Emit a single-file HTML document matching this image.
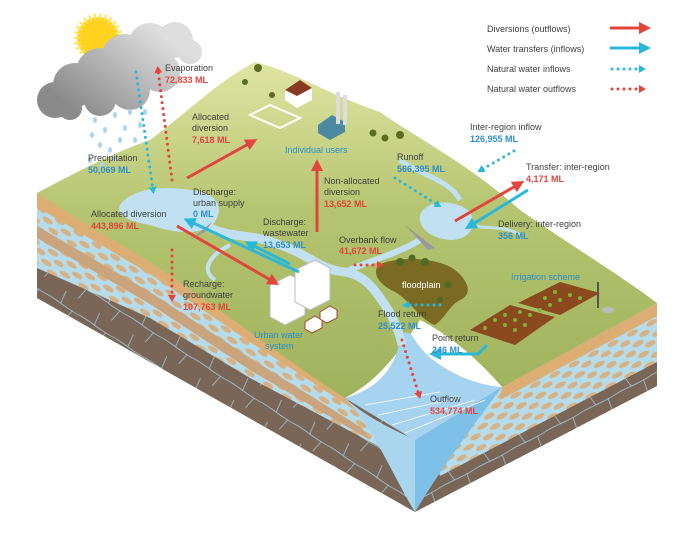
<!DOCTYPE html>
<html><head><meta charset="utf-8"><style>
html,body{margin:0;padding:0;background:#fff;}
svg{display:block;}
text{font-family:"Liberation Sans",sans-serif;font-size:9px;}
.g{fill:#3f3f3f}.r{fill:#e2453c;font-weight:bold}.b{fill:#2f8fc9;font-weight:bold}.bl{fill:#2f8fc9}
</style></head><body>
<svg width="700" height="548" viewBox="0 0 700 548" xmlns="http://www.w3.org/2000/svg">
<defs>
<pattern id="cob" width="22" height="12" patternUnits="userSpaceOnUse" patternTransform="rotate(33)">
<rect width="22" height="12" fill="#b5dcea"/>
<ellipse cx="6" cy="3" rx="6" ry="2.5" fill="#d7b183"/>
<ellipse cx="17" cy="9" rx="6" ry="2.5" fill="#d7b183"/>
</pattern>
<pattern id="cobR" width="22" height="12" patternUnits="userSpaceOnUse" patternTransform="rotate(-28)">
<rect width="22" height="12" fill="#b5dcea"/>
<ellipse cx="6" cy="3" rx="6" ry="2.5" fill="#d7b183"/>
<ellipse cx="17" cy="9" rx="6" ry="2.5" fill="#d7b183"/>
</pattern>
<pattern id="rock" width="40" height="26" patternUnits="userSpaceOnUse" patternTransform="rotate(33)">
<rect width="40" height="26" fill="#7a6656"/>
<path d="M0 13 C10 12 25 15 40 13 M14 0 L16 13 M30 13 L28 26" stroke="#9cc6da" stroke-width="0.8" fill="none"/>
</pattern>
<pattern id="rockR" width="40" height="26" patternUnits="userSpaceOnUse" patternTransform="rotate(-28)">
<rect width="40" height="26" fill="#7a6656"/>
<path d="M0 13 C10 12 25 15 40 13 M14 0 L16 13 M30 13 L28 26" stroke="#9cc6da" stroke-width="0.8" fill="none"/>
</pattern>
<linearGradient id="gr" x1="0" y1="0" x2="0" y2="1">
<stop offset="0" stop-color="#dfe5a2"/><stop offset="0.45" stop-color="#b4c470"/><stop offset="1" stop-color="#9fb25c"/>
</linearGradient>
<linearGradient id="cl" x1="150" y1="25" x2="80" y2="115" gradientUnits="userSpaceOnUse">
<stop offset="0" stop-color="#dedede"/><stop offset="1" stop-color="#8a8a8a"/>
</linearGradient>
<marker id="ar" markerWidth="4" markerHeight="4" refX="2" refY="2" orient="auto"><path d="M0 0 L4 2 L0 4z" fill="#e2453c"/></marker>
<marker id="ab" markerWidth="4" markerHeight="4" refX="2" refY="2" orient="auto"><path d="M0 0 L4 2 L0 4z" fill="#2ab8d8"/></marker>
<marker id="dr" markerWidth="8" markerHeight="8" refX="3" refY="4" orient="auto" markerUnits="userSpaceOnUse"><path d="M0 0 L7 4 L0 8z" fill="#e2453c"/></marker>
<marker id="db" markerWidth="8" markerHeight="8" refX="3" refY="4" orient="auto" markerUnits="userSpaceOnUse"><path d="M0 0 L7 4 L0 8z" fill="#2ab8d8"/></marker>
</defs>

<polygon points="37,193 150,262 250,330 345,398 415,440 415,512 37,298" fill="url(#rock)"/>
<polygon points="37,193 150,262 250,330 345,398 395,455 250,378 150,318 37,268" fill="url(#cob)"/>
<polygon points="37,226 150,292 250,358 362,428 370,440 250,370 150,304 37,238" fill="#c9a47c"/>
<polygon points="37,193 150,262 250,330 345,398 355,410 250,342 150,274 37,207" fill="#dcae74"/>
<polygon points="502,387 657,303 657,386 415,512 415,440" fill="url(#rockR)"/>
<polygon points="502,387 657,303 657,362 440,476 430,440" fill="url(#cobR)"/>
<polygon points="502,387 657,303 657,316 500,400" fill="#dcae74"/>
<path d="M345,398 C370,420 395,430 415,440 L415,512 C395,480 375,430 345,398z" fill="#a9d5ee"/>
<path d="M415,440 L502,387 C470,430 440,470 415,512z" fill="#7fc0e8"/>
<path d="M37,193 C80,170 120,150 150,140 C190,110 220,80 255,62 C290,70 330,95 380,112 C420,140 470,165 520,210 C570,245 620,275 657,303 L502,387 C470,350 440,330 420,320 C400,350 380,380 345,398 C300,370 250,330 150,262 C110,238 70,215 37,193z" fill="url(#gr)"/>
<path d="M345,398 C375,390 395,370 400,340 C402,330 410,330 415,340 C430,365 470,385 502,387 L415,440z" fill="#a6d3ef"/>
<g stroke="#fff" stroke-width="1" opacity="0.8"><path d="M365,405 L440,392"/><path d="M378,415 L460,398"/><path d="M392,425 L475,400"/><path d="M405,433 L485,400"/></g>
<g fill="#c1e1f3">
<path d="M120,205 C130,190 160,185 190,190 C215,192 225,205 215,222 C200,238 170,232 150,225 C130,222 115,215 120,205z"/>
<path d="M420,215 C425,200 455,198 470,212 C478,225 470,240 450,240 C430,238 418,228 420,215z"/>
</g>
<path d="M400,160 C420,175 450,180 460,200" stroke="#c1e1f3" stroke-width="5" fill="none"/>
<path d="M470,225 C490,230 505,225 520,235" stroke="#c1e1f3" stroke-width="3" fill="none"/>
<path d="M205,225 C230,240 250,232 280,245 C310,255 320,270 345,272 C365,275 375,290 385,305 C395,320 400,335 402,345" stroke="#c1e1f3" stroke-width="9" fill="none"/>
<path d="M230,245 C210,255 200,270 215,280" stroke="#c1e1f3" stroke-width="4" fill="none"/>
<path d="M345,272 C370,260 395,255 420,240" stroke="#c1e1f3" stroke-width="6" fill="none"/>
<path d="M378,265 C400,255 440,258 455,270 C470,282 472,295 460,300 C450,305 445,318 435,325 C420,320 410,300 395,292 C380,285 372,275 378,265z" fill="#7a6a22"/>
<g fill="#4e6b24"><circle cx="400" cy="262" r="4"/><circle cx="412" cy="258" r="3.5"/><circle cx="425" cy="262" r="4"/><circle cx="448" cy="285" r="3.5"/><circle cx="440" cy="300" r="3"/></g>
<polygon points="190,240 212,222 205,232" fill="#9a9a9a"/>
<polygon points="405,225 435,248 428,250" fill="#9a9a9a"/>
<polygon points="470,330 510,305 555,317 515,345" fill="#8a4a1e"/>
<polygon points="518,303 560,282 600,293 560,315" fill="#8a4a1e"/>
<g fill="#7bb33c"><circle cx="495" cy="320" r="2"/><circle cx="505" cy="325" r="2"/><circle cx="515" cy="330" r="2"/><circle cx="505" cy="315" r="2"/><circle cx="515" cy="320" r="2"/><circle cx="525" cy="325" r="2"/><circle cx="530" cy="315" r="2"/><circle cx="540" cy="310" r="2"/><circle cx="550" cy="305" r="2"/><circle cx="560" cy="300" r="2"/><circle cx="570" cy="295" r="2"/><circle cx="545" cy="298" r="2"/><circle cx="555" cy="292" r="2"/><circle cx="580" cy="298" r="2"/><circle cx="520" cy="312" r="2"/><circle cx="485" cy="328" r="2"/></g>
<line x1="598" y1="282" x2="598" y2="308" stroke="#555" stroke-width="2"/>
<ellipse cx="608" cy="310" rx="6" ry="3" fill="#bbb"/>
<polygon points="270,285 290,275 305,282 305,315 285,325 270,317" fill="#fff" stroke="#bbb"/>
<polygon points="295,270 315,260 330,268 330,300 310,310 295,302" fill="#fff" stroke="#bbb"/>
<polygon points="305,322 315,316 322,320 322,328 312,333 305,329" fill="#fff" stroke="#9b4a2a"/>
<polygon points="320,312 330,306 337,310 337,318 327,323 320,319" fill="#fff" stroke="#9b4a2a"/>
<polygon points="285,90 300,80 312,88 312,100 297,108 285,100" fill="#fff"/><polygon points="285,90 300,80 312,88 297,96" fill="#8a3a22"/>
<polygon points="250,115 270,105 300,118 280,128" fill="none" stroke="#fff" stroke-width="2"/>
<polygon points="318,125 332,115 345,122 345,132 330,140 318,133" fill="#4b8aa0"/>
<rect x="336" y="92" width="4" height="32" fill="#ddd"/><rect x="343" y="95" width="4" height="30" fill="#ddd"/>
<g fill="#5a6b22"><circle cx="258" cy="68" r="4"/><circle cx="245" cy="82" r="3"/><circle cx="373" cy="133" r="3.5"/><circle cx="385" cy="138" r="3.5"/><circle cx="400" cy="135" r="4"/><circle cx="272" cy="95" r="3"/></g>
<circle cx="98" cy="38" r="21" fill="#ffd21f" stroke="#ffe55a" stroke-width="7" stroke-dasharray="2 3"/>
<g fill="url(#cl)">
<circle cx="55" cy="100" r="18"/><circle cx="75" cy="85" r="22"/><circle cx="100" cy="72" r="24"/>
<circle cx="125" cy="58" r="24"/><circle cx="150" cy="45" r="22"/><circle cx="175" cy="40" r="18"/>
<circle cx="190" cy="52" r="12"/><circle cx="160" cy="72" r="20"/><circle cx="130" cy="90" r="20"/>
<circle cx="100" cy="100" r="16"/><circle cx="70" cy="108" r="12"/>
</g>
<g fill="#a8d6ef"><ellipse cx="95" cy="120" rx="2" ry="3"/><ellipse cx="105" cy="130" rx="2" ry="3"/><ellipse cx="115" cy="115" rx="2" ry="3"/><ellipse cx="125" cy="128" rx="2" ry="3"/><ellipse cx="100" cy="145" rx="2" ry="3"/><ellipse cx="110" cy="150" rx="2" ry="3"/><ellipse cx="120" cy="140" rx="2" ry="3"/><ellipse cx="130" cy="112" rx="2" ry="3"/><ellipse cx="140" cy="125" rx="2" ry="3"/><ellipse cx="135" cy="140" rx="2" ry="3"/><ellipse cx="145" cy="112" rx="2" ry="3"/><ellipse cx="92" cy="135" rx="2" ry="3"/><ellipse cx="90" cy="160" rx="2" ry="3"/><ellipse cx="102" cy="165" rx="2" ry="3"/><ellipse cx="115" cy="158" rx="2" ry="3"/></g>

<g stroke-width="3" fill="none">
<line x1="187" y1="178" x2="252" y2="142" stroke="#e2453c" marker-end="url(#ar)"/>
<line x1="317" y1="232" x2="317" y2="165" stroke="#e2453c" marker-end="url(#ar)"/>
<line x1="177" y1="226" x2="274" y2="282" stroke="#e2453c" marker-end="url(#ar)"/>
<line x1="299" y1="272" x2="189" y2="221" stroke="#2ab8d8" marker-end="url(#ab)"/>
<line x1="290" y1="264" x2="250" y2="244" stroke="#2ab8d8" marker-end="url(#ab)"/>
<line x1="455" y1="221" x2="519" y2="184" stroke="#e2453c" marker-end="url(#ar)"/>
<line x1="528" y1="190" x2="470" y2="226" stroke="#2ab8d8" marker-end="url(#ab)"/>
<polyline points="487,345 478,354 435,354" stroke="#2ab8d8" marker-end="url(#ab)"/>
<line x1="610" y1="28" x2="645" y2="28" stroke="#e2453c" marker-end="url(#ar)"/>
<line x1="610" y1="48" x2="645" y2="48" stroke="#2ab8d8" marker-end="url(#ab)"/>
</g>
<g stroke-width="3" stroke-linecap="round" stroke-dasharray="0 6" fill="none">
<line x1="172" y1="180" x2="158" y2="70" stroke="#e2453c" marker-end="url(#dr)"/>
<line x1="136" y1="72" x2="153" y2="190" stroke="#2ab8d8" marker-end="url(#db)"/>
<line x1="395" y1="178" x2="438" y2="205" stroke="#2ab8d8" marker-end="url(#db)"/>
<line x1="514" y1="151" x2="481" y2="170" stroke="#2ab8d8" marker-end="url(#db)"/>
<line x1="355" y1="265" x2="380" y2="265" stroke="#e2453c" marker-end="url(#dr)"/>
<line x1="172" y1="250" x2="172" y2="298" stroke="#e2453c" marker-end="url(#dr)"/>
<line x1="440" y1="305" x2="406" y2="305" stroke="#2ab8d8" marker-end="url(#db)"/>
<line x1="402" y1="340" x2="419" y2="395" stroke="#e2453c" marker-end="url(#dr)"/>
<line x1="612" y1="69" x2="642" y2="69" stroke="#2ab8d8" marker-end="url(#db)"/>
<line x1="612" y1="89" x2="642" y2="89" stroke="#e2453c" marker-end="url(#dr)"/>
</g>

<text x="487" y="32" class="g">Diversions (outflows)</text>
<text x="487" y="52" class="g">Water transfers (inflows)</text>
<text x="487" y="72" class="g">Natural water inflows</text>
<text x="487" y="92" class="g">Natural water outflows</text>

<text x="165" y="71" class="g">Evaporation</text><text x="165" y="83" class="r">72,833 ML</text>
<text x="192" y="120" class="g">Allocated</text><text x="192" y="131" class="g">diversion</text><text x="192" y="143" class="r">7,618 ML</text>
<text x="285" y="153" class="bl">Individual users</text>
<text x="88" y="161" class="g">Precipitation</text><text x="88" y="173" class="b">50,069 ML</text>
<text x="193" y="195" class="g">Discharge:</text><text x="193" y="206" class="g">urban supply</text><text x="193" y="217" class="b">0 ML</text>
<text x="91" y="217" class="g">Allocated diversion</text><text x="91" y="229" class="r">443,896 ML</text>
<text x="324" y="184" class="g">Non-allocated</text><text x="324" y="195" class="g">diversion</text><text x="324" y="207" class="r">13,652 ML</text>
<text x="397" y="160" class="g">Runoff</text><text x="397" y="172" class="b">566,395 ML</text>
<text x="470" y="130" class="g">Inter-region inflow</text><text x="470" y="142" class="b">126,955 ML</text>
<text x="526" y="170" class="g">Transfer: inter-region</text><text x="526" y="182" class="r">4,171 ML</text>
<text x="498" y="227" class="g">Delivery: inter-region</text><text x="498" y="239" class="b">356 ML</text>
<text x="263" y="225" class="g">Discharge:</text><text x="263" y="236" class="g">wastewater</text><text x="263" y="248" class="b">13,653 ML</text>
<text x="339" y="243" class="g">Overbank flow</text><text x="339" y="254" class="r">41,672 ML</text>
<text x="183" y="287" class="g">Recharge:</text><text x="183" y="298" class="g">groundwater</text><text x="183" y="310" class="r">107,763 ML</text>
<text x="402" y="288" fill="#fff">floodplain</text>
<text x="511" y="280" class="bl">Irrigation scheme</text>
<text x="378" y="317" class="g">Flood return</text><text x="378" y="329" class="b">25,522 ML</text>
<text x="432" y="341" class="g">Point return</text><text x="432" y="353" class="b">246 ML</text>
<text x="254" y="338" class="bl">Urban water</text><text x="265" y="349" class="bl">system</text>
<text x="430" y="402" class="g">Outflow</text><text x="430" y="414" class="r">534,774 ML</text>
</svg>
</body></html>
